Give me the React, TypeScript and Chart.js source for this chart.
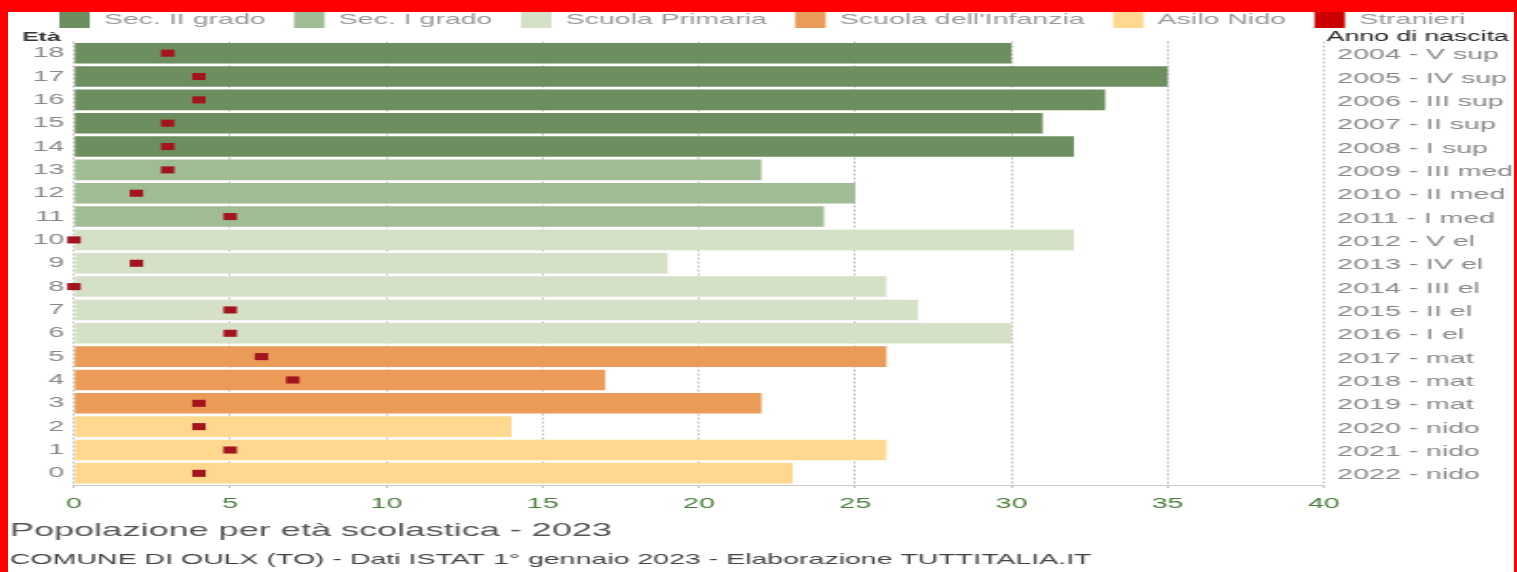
import { useEffect, useRef } from 'react';
import { Chart, registerables } from 'chart.js';

Chart.register(...registerables);

// Età (anni compiuti) dal basso verso l'alto
const eta = ['0', '1', '2', '3', '4', '5', '6', '7', '8', '9', '10', '11', '12', '13', '14', '15', '16', '17', '18'];

const annoNascita = [
  '2022 - nido', '2021 - nido', '2020 - nido',
  '2019 - mat', '2018 - mat', '2017 - mat',
  '2016 - I el', '2015 - II el', '2014 - III el', '2013 - IV el', '2012 - V el',
  '2011 - I med', '2010 - II med', '2009 - III med',
  '2008 - I sup', '2007 - II sup', '2006 - III sup', '2005 - IV sup', '2004 - V sup',
];

// Residenti per età
const residenti = [23, 26, 14, 22, 17, 26, 30, 27, 26, 19, 32, 24, 25, 22, 32, 31, 33, 35, 30];

// Di cui stranieri
const stranieri = [4, 5, 4, 4, 7, 6, 5, 5, 0, 2, 0, 5, 2, 3, 3, 3, 4, 4, 3];

const gradi = ['Sec. II grado', 'Sec. I grado', 'Scuola Primaria', "Scuola dell'Infanzia", 'Asilo Nido'];
const coloriGradi = ['#6d8e5e', '#a0bc94', '#d4e1c6', '#e99b57', '#fed88f'];

// Indice in "gradi" per ciascuna età
const gradoPerEta = [4, 4, 4, 3, 3, 3, 2, 2, 2, 2, 2, 1, 1, 1, 0, 0, 0, 0, 0];

const tickValoriX = { min: 0, max: 40, step: 5 };

const titolo = 'Popolazione per età scolastica - 2023';
const sottotitolo = 'COMUNE DI OULX (TO) - Dati ISTAT 1° gennaio 2023 - Elaborazione TUTTITALIA.IT';

const FONT = "'Liberation Sans', Arial, Helvetica, sans-serif";
const STRETCH = 1.9;
const LOGICAL_W = 793;
const LOGICAL_H = 575;

const intestazioni = {
  id: 'intestazioni',
  afterDraw(chart: any) {
    const { ctx, chartArea, scales } = chart;
    ctx.save();
    ctx.textBaseline = 'alphabetic';
    ctx.textAlign = 'left';
    ctx.fillStyle = '#333';
    ctx.font = `bold 13px ${FONT}`;
    ctx.fillText('Età', scales.y.left + 6.4, chartArea.top - 1);
    ctx.fillStyle = '#222';
    ctx.font = `14px ${FONT}`;
    ctx.fillText('Anno di nascita', scales.y2.left + 1.5, chartArea.top - 1);
    ctx.restore();
  },
};

export default function App() {
  const canvasRef = useRef<HTMLCanvasElement | null>(null);

  useEffect(() => {
    if (!canvasRef.current) return;
    Chart.defaults.font.family = FONT;

    const barre = gradi.map((g, gi) => ({
      type: 'bar' as const,
      label: g,
      data: residenti.map((v, i) => (gradoPerEta[i] === gi ? v : null)),
      backgroundColor: coloriGradi[gi],
      borderWidth: 0,
      grouped: false,
      barPercentage: 0.88,
      categoryPercentage: 1,
      xAxisID: 'x',
      yAxisID: 'y',
    }));

    const marcatori = {
      type: 'line' as const,
      label: 'Stranieri',
      data: stranieri,
      indexAxis: 'y' as const,
      showLine: false,
      clip: false,
      backgroundColor: '#cc0000',
      borderColor: '#cc0000',
      borderWidth: 0,
      pointStyle: 'rect' as const,
      pointRadius: 5,
      pointHoverRadius: 5,
      pointBackgroundColor: '#a3141f',
      pointBorderWidth: 0,
      order: -1,
      xAxisID: 'x',
      yAxisID: 'y',
    };

    const chart = new Chart(canvasRef.current, {
      type: 'bar',
      data: { labels: eta, datasets: [...barre, marcatori] as any },
      plugins: [intestazioni],
      options: {
        indexAxis: 'y',
        animation: false,
        responsive: true,
        maintainAspectRatio: false,
        layout: { padding: { left: 1, right: 0, top: 0, bottom: 0 } },
        scales: {
          x: {
            type: 'linear',
            position: 'bottom',
            min: tickValoriX.min,
            max: tickValoriX.max,
            z: 1,
            ticks: { stepSize: tickValoriX.step, color: '#4a7d3c', font: { size: 15 }, padding: 5 },
            grid: {
              color: 'rgba(0,0,0,0.25)',
              lineWidth: 1,
              tickLength: 5,
              tickColor: 'rgba(0,0,0,0.25)',
              tickBorderDash: [2, 2],
            },
            border: { display: true, color: '#c8c8c8', width: 1, dash: [2, 2] },
          },
          xTop: {
            type: 'linear',
            position: 'top',
            min: tickValoriX.min,
            max: tickValoriX.max,
            ticks: { display: false },
            grid: { display: false, drawTicks: false },
            border: { display: false },
            afterFit: (s: any) => { s.height = 3.5; },
          },
          y: {
            type: 'category',
            reverse: true,
            offset: true,
            grid: { display: false, drawTicks: false },
            border: { display: false },
            ticks: { color: '#888', font: { size: 15 }, padding: 5 },
            afterFit: (s: any) => { s.width = 33.7; },
          },
          y2: {
            type: 'category',
            labels: annoNascita,
            position: 'right',
            reverse: true,
            offset: true,
            grid: { display: false, drawTicks: false },
            border: { display: false },
            ticks: { color: '#888', font: { size: 15 }, padding: 7, labelOffset: 2 },
            afterFit: (s: any) => { s.width = LOGICAL_W - 692.6; },
          },
        },
        plugins: {
          legend: {
            position: 'top',
            align: 'center',
            labels: {
              boxWidth: 16,
              boxHeight: 16,
              padding: 15,
              color: '#999',
              font: { size: 15 },
              sort: (a: any, b: any) => a.datasetIndex - b.datasetIndex,
            },
          },
          title: {
            display: true,
            text: titolo,
            position: 'bottom',
            align: 'start',
            color: '#555',
            font: { size: 19, weight: 'normal' },
            padding: { top: 1.6, bottom: 2 },
            weight: 100,
          } as any,
          subtitle: {
            display: true,
            text: sottotitolo,
            position: 'bottom',
            align: 'start',
            color: '#444',
            font: { size: 15, weight: 'normal' },
            padding: { top: 6.6, bottom: 3 },
            weight: 200,
          } as any,
          tooltip: { enabled: false },
        },
      },
    });

    return () => chart.destroy();
  }, []);

  return (
    <div style={{ position: 'fixed', inset: 0, background: '#ff0000', overflow: 'hidden' }}>
      <div
        style={{
          position: 'absolute',
          left: 8,
          top: 12,
          width: 1506,
          height: 560,
          background: '#ffffff',
          overflow: 'hidden',
        }}
      >
        <div
          style={{
            position: 'absolute',
            left: 0,
            top: -15,
            width: LOGICAL_W,
            height: LOGICAL_H,
            transform: `scaleX(${STRETCH})`,
            transformOrigin: '0 0',
          }}
        >
          <canvas ref={canvasRef} />
        </div>
      </div>
    </div>
  );
}
